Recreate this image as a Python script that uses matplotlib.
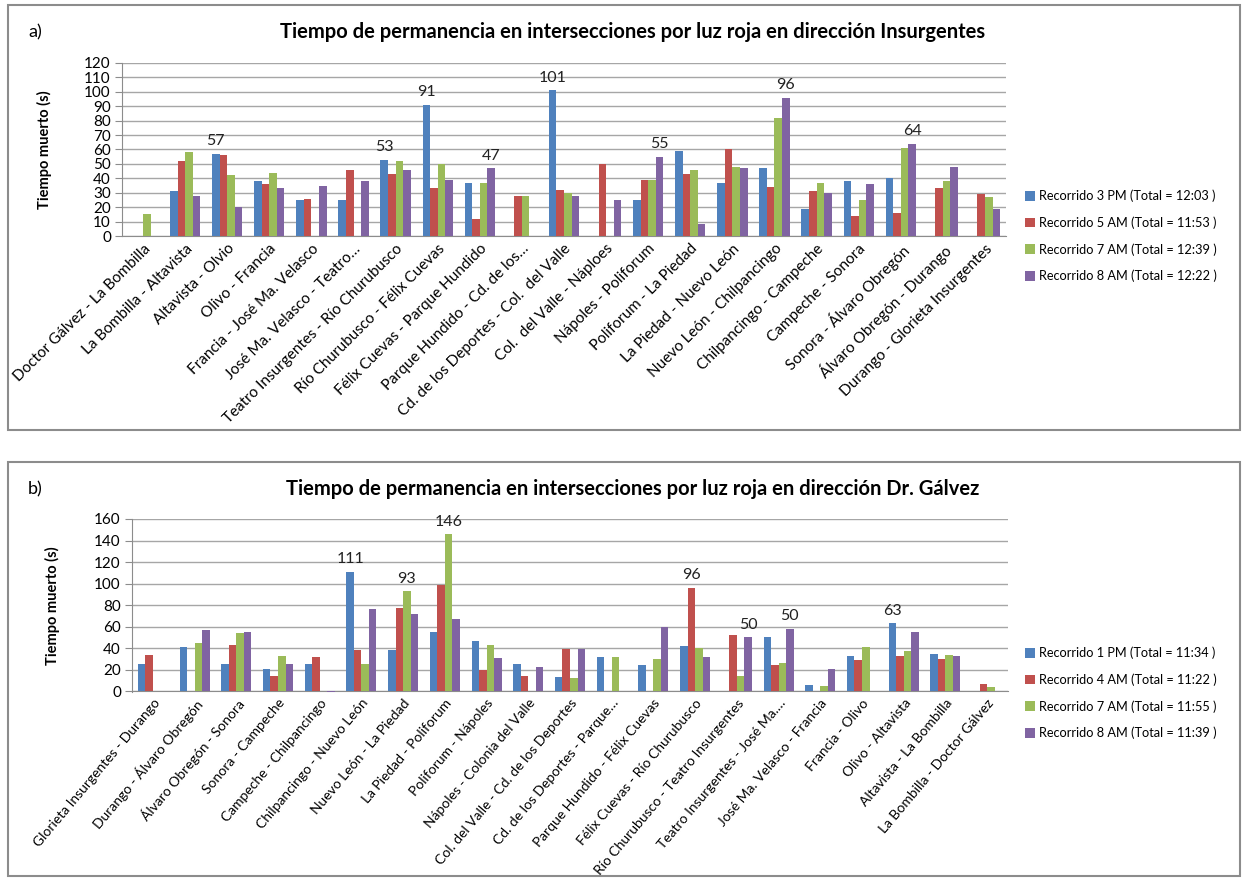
import matplotlib
matplotlib.use("Agg")
import matplotlib.pyplot as plt
from matplotlib.patches import Rectangle
import numpy as np

plt.rcParams['font.family'] = ['Lato', 'DejaVu Sans']

# ---------------- data: panel a ----------------
cats_a = ["Doctor Gálvez - La Bombilla", "La Bombilla - Altavista", "Altavista - Olvio",
          "Olivo - Francia", "Francia - José Ma. Velasco", "José Ma. Velasco - Teatro…",
          "Teatro Insurgentes - Río Churubusco", "Río Churubusco - Félix Cuevas",
          "Félix Cuevas - Parque Hundido", "Parque Hundido - Cd. de los…",
          "Cd. de los Deportes - Col.  del Valle", "Col.  del Valle - Náploes",
          "Nápoles - Poliforum", "Poliforum - La Piedad", "La Piedad - Nuevo León",
          "Nuevo León - Chilpancingo", "Chilpancingo - Campeche", "Campeche - Sonora",
          "Sonora - Álvaro Obregón", "Álvaro Obregón - Durango", "Durango - Glorieta Insurgentes"]
a_3pm = [0, 31, 57, 38, 25, 25, 53, 91, 37, 0, 101, 0, 25, 59, 37, 47, 19, 38, 40, 0, 0]
a_5am = [0, 52, 56, 36, 26, 46, 43, 33, 12, 28, 32, 50, 39, 43, 60, 34, 31, 14, 16, 33, 29]
a_7am = [15, 58, 42, 44, 0, 0, 52, 50, 37, 28, 30, 0, 39, 46, 48, 82, 37, 25, 61, 38, 27]
a_8am = [0, 28, 20, 33, 35, 38, 46, 39, 47, 0, 28, 25, 55, 8, 47, 96, 30, 36, 64, 48, 19]
legend_a = ["Recorrido 3 PM (Total = 12:03 )", "Recorrido 5 AM (Total = 11:53 )",
            "Recorrido 7 AM (Total = 12:39 )", "Recorrido 8 AM (Total = 12:22 )"]
# data labels: (category index, series index, shown text)
labels_a = [(2, 0, "57"), (6, 0, "53"), (7, 0, "91"), (8, 3, "47"), (10, 0, "101"),
            (12, 3, "55"), (15, 3, "96"), (18, 3, "64")]
title_a = "Tiempo de permanencia en intersecciones por luz roja en dirección Insurgentes"

# ---------------- data: panel b ----------------
cats_b = ["Glorieta Insurgentes - Durango", "Durango - Álvaro Obregón", "Álvaro Obregón - Sonora",
          "Sonora - Campeche", "Campeche - Chilpancingo", "Chilpancingo - Nuevo León",
          "Nuevo León - La Piedad", "La Piedad - Poliforum", "Poliforum - Nápoles",
          "Nápoles - Colonia del Valle", "Col. del Valle - Cd. de los Deportes",
          "Cd. de los Deportes - Parque…", "Parque Hundido - Félix Cuevas",
          "Félix Cuevas - Río Churubusco", "Río Churubusco - Teatro Insurgentes",
          "Teatro Insurgentes - José Ma.…", "José Ma. Velasco - Francia", "Francia - Olivo",
          "Olivo - Altavista", "Altavista - La Bombilla", "La Bombilla - Doctor Gálvez"]
b_1pm = [25, 41, 25, 21, 25, 111, 38, 55, 47, 25, 13, 32, 24, 42, 0, 50, 6, 33, 63, 35, 0]
b_4am = [34, 0, 43, 14, 32, 38, 77, 99, 20, 14, 39, 0, 0, 96, 52, 24, 0, 29, 33, 30, 7]
b_7am = [0, 45, 54, 33, 0, 25, 93, 146, 43, 0, 12, 32, 30, 40, 14, 26, 5, 41, 37, 34, 4]
b_8am = [0, 57, 55, 25, -1, 76, 72, 67, 31, 23, 39, 0, 60, 32, 50, 58, 21, 0, 55, 33, 0]
legend_b = ["Recorrido 1 PM (Total = 11:34 )", "Recorrido 4 AM (Total = 11:22 )",
            "Recorrido 7 AM (Total = 11:55 )", "Recorrido 8 AM (Total = 11:39 )"]
labels_b = [(5, 0, "111"), (6, 2, "93"), (7, 2, "146"), (13, 1, "96"), (14, 3, "50"),
            (15, 3, "50"), (18, 0, "63")]
title_b = "Tiempo de permanencia en intersecciones por luz roja en dirección Dr. Gálvez"

ylabel = "Tiempo muerto (s)"
colors = ["#4F81BD", "#C0504D", "#9BBB59", "#8064A2"]

W, H = 1248, 880
fig = plt.figure(figsize=(W / 100, H / 100), dpi=100)
fig.patch.set_facecolor("white")


def px_rect(x0, y0, x1, y1):
    return [x0 / W, 1 - y1 / H, (x1 - x0) / W, (y1 - y0) / H]


def panel(box, axrect, cats, series, legends, labels, title, letter, ymax, ystep,
          title_y, legend_y, tick_fs, tick_rot, ylab_x):
    fig.patches.append(Rectangle((box[0] / W, 1 - box[3] / H), (box[2] - box[0]) / W,
                                 (box[3] - box[1]) / H, transform=fig.transFigure,
                                 fill=False, edgecolor="#8c8c8c", linewidth=1.5))
    ax = fig.add_axes(px_rect(*axrect))
    n = len(cats)
    x = np.arange(n)
    bw = 0.18
    for i, (vals, col, lab) in enumerate(zip(series, colors, legends)):
        ax.bar(x + (i - 1.5) * bw, vals, width=bw, color=col, label=lab,
               edgecolor="none", zorder=3)
    for ci, si, txt in labels:
        v = series[si][ci]
        ax.annotate(txt, (x[ci] + (si - 1.5) * bw, v), xytext=(0, 4),
                    textcoords="offset points", ha="center", va="bottom",
                    fontsize=11.5, color="#222222")
    ax.set_xlim(-0.5, n - 0.5)
    lo = min(min(s) for s in series)
    ax.set_ylim(0 if lo >= 0 else -ymax * 0.004, ymax)
    ax.set_yticks(np.arange(0, ymax + 1, ystep))
    ax.yaxis.grid(True, color="#a6a6a6", linewidth=1, zorder=0)
    ax.set_axisbelow(True)
    for s in ["top", "right"]:
        ax.spines[s].set_visible(False)
    ax.spines["left"].set_color("#8c8c8c")
    ax.spines["bottom"].set_color("#8c8c8c")
    ax.spines["bottom"].set_position(("data", 0))
    ax.tick_params(axis="y", length=5, color="#8c8c8c", labelsize=11, pad=3)
    ax.tick_params(axis="x", length=0, pad=4)
    ax.set_xticks(x)
    ax.set_xticklabels(cats, rotation=tick_rot, ha="right", rotation_mode="anchor",
                       fontsize=tick_fs)
    ax.set_ylabel(ylabel, fontsize=10.5, fontweight="bold")
    ax.yaxis.set_label_coords((ylab_x - axrect[0]) / (axrect[2] - axrect[0]), 0.5)
    fig.text(box[0] / W + 20 / W, 1 - title_y / H, letter, fontsize=13, va="center")
    fig.text(633 / W, 1 - title_y / H, title, fontsize=14.5, fontweight="bold",
             ha="center", va="center")
    fig.legend(*ax.get_legend_handles_labels(), loc="center left",
               bbox_to_anchor=(1020 / W, 1 - legend_y / H), frameon=False,
               fontsize=9.2, handlelength=0.8, handleheight=0.8,
               handletextpad=0.3, labelspacing=1.1, borderaxespad=0)
    return ax


panel((8, 5, 1240, 430), (122, 63, 1006, 236), cats_a,
      [a_3pm, a_5am, a_7am, a_8am], legend_a, labels_a, title_a, "a)", 120, 10,
      32, 236, 11, 45, 52)
panel((8, 462, 1240, 876), (132, 519, 1008, 692), cats_b,
      [b_1pm, b_4am, b_7am, b_8am], legend_b, labels_b, title_b, "b)", 160, 20,
      489, 693, 10, 50, 60)

fig.savefig("out.png", dpi=100)
